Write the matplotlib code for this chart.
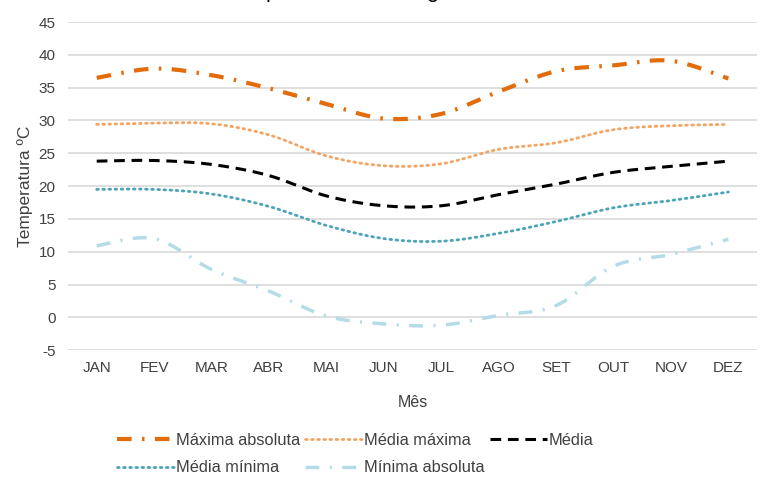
import numpy as np
import matplotlib.pyplot as plt

plt.rcParams['font.family'] = ['Liberation Sans', 'DejaVu Sans']
plt.rcParams['axes.unicode_minus'] = False

# dados mensais (ºC)
meses = ['JAN', 'FEV', 'MAR', 'ABR', 'MAI', 'JUN', 'JUL', 'AGO', 'SET', 'OUT', 'NOV', 'DEZ']
maxima_abs = [36.5, 37.9, 36.9, 34.9, 32.5, 30.3, 31.0, 34.4, 37.5, 38.4, 39.1, 36.4]
media_max = [29.4, 29.6, 29.5, 27.8, 24.6, 23.1, 23.4, 25.6, 26.6, 28.6, 29.2, 29.4]
media = [23.8, 23.9, 23.3, 21.6, 18.5, 17.0, 17.0, 18.7, 20.3, 22.1, 23.0, 23.8]
media_min = [19.5, 19.5, 18.8, 16.9, 14.0, 12.0, 11.6, 12.8, 14.6, 16.7, 17.8, 19.1]
minima_abs = [10.9, 12.0, 7.3, 4.0, 0.2, -1.0, -1.2, 0.3, 1.8, 7.8, 9.6, 11.9]

titulo = 'Temperaturas ao longo do ano'


def suave(y, n=30):
    # curva suavizada tipo Excel (Bezier com pontos de controle Catmull-Rom)
    y = np.asarray(y, dtype=float)
    x = np.arange(len(y), dtype=float)
    P = np.column_stack([x, y])
    out = [P[0]]
    t = np.linspace(0, 1, n)[1:, None]
    for i in range(len(P) - 1):
        p0 = P[max(i - 1, 0)]
        p1 = P[i]
        p2 = P[i + 1]
        p3 = P[min(i + 2, len(P) - 1)]
        c1 = p1 + (p2 - p0) / 6
        c2 = p2 - (p3 - p1) / 6
        seg = ((1 - t) ** 3) * p1 + 3 * ((1 - t) ** 2) * t * c1 + 3 * (1 - t) * t ** 2 * c2 + t ** 3 * p2
        out.extend(seg)
    out = np.array(out)
    return out[:, 0], out[:, 1]


fig = plt.figure(figsize=(7.64, 4.79), dpi=100)
ax = fig.add_axes([0.089, 0.269, 0.902, 0.685])

series = [
    (maxima_abs, 'Máxima absoluta', '#E36C0A', 3.0, (0, (3.5, 2.5, 0.6, 2.5))),
    (media_max, 'Média máxima', '#F4A460', 2.0, (0, (0.6, 1.6))),
    (media, 'Média', '#000000', 2.2, (0, (3.5, 2.2))),
    (media_min, 'Média mínima', '#4BA3B8', 2.0, (0, (0.6, 1.6))),
    (minima_abs, 'Mínima absoluta', '#B4DCE6', 2.5, (0, (4, 3, 0.6, 3))),
]

linhas = []
for vals, nome, cor, lw, ls in series:
    xs, ys = suave(vals)
    ln, = ax.plot(xs, ys, color=cor, lw=lw, linestyle=ls, label=nome,
                  dash_capstyle='round' if ls[1][0] < 1 else 'butt', solid_capstyle='butt')
    linhas.append(ln)

ax.set_xlim(-0.5, 11.5)
ax.set_ylim(-5, 45)
ax.set_yticks(np.arange(-5, 46, 5))
ax.set_xticks(range(12))
ax.set_xticklabels(meses)
ax.tick_params(length=0, labelsize=11, colors='#404040', pad=8)
ax.tick_params(axis='y', pad=9)
ax.grid(axis='y', color='#D9D9D9', lw=1.2)
ax.set_axisbelow(True)
for s in ax.spines.values():
    s.set_visible(False)

ax.set_ylabel('Temperatura ºC', fontsize=12.5, color='#404040', labelpad=4)
ax.set_xlabel('Mês', fontsize=11.5, color='#404040', labelpad=14)

# ordem para preencher por linhas
ordem = [0, 3, 1, 4, 2]
leg = fig.legend([linhas[i] for i in ordem], [linhas[i].get_label() for i in ordem],
                 ncol=3, loc='center', bbox_to_anchor=(0.465, 0.052), frameon=False,
                 fontsize=11.8, handlelength=3.5, handletextpad=0.1, columnspacing=0.3,
                 labelspacing=0.75)
for t in leg.get_texts():
    t.set_color('#404040')

# titulo cortado na borda superior, como na imagem original
fig.text(0.49, 1 + 3 / 479, titulo, ha='center', va='baseline', fontsize=16, color='#000000')

fig.savefig('out.png', dpi=100)
